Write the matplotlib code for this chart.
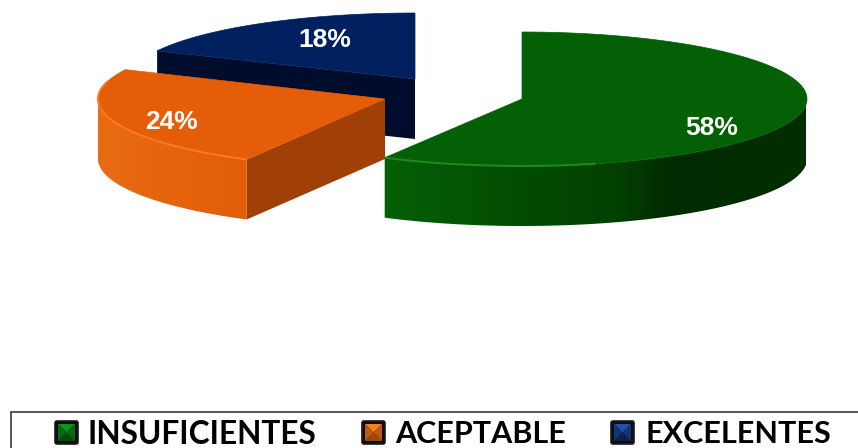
import numpy as np
import matplotlib
matplotlib.use("Agg")
import matplotlib.pyplot as plt
from matplotlib.patches import FancyBboxPatch, Polygon, Rectangle
from matplotlib.colors import to_rgb

categories = ["INSUFICIENTES", "ACEPTABLE", "EXCELENTES"]
values = [58, 24, 18]
labels = ["58%", "24%", "18%"]

# slice look, same order as categories
apex = [(522, 99), (385, 99), (415, 79)]
radii = [(285, 67), (287, 69), (285, 66)]
top_colors = ["#046004", "#e65d09", "#00205f"]
cut_colors = [None, "#a04006", "#000c2c"]
lit_colors = ["#1f8a1f", "#ff7a1c", None]
rim_stops = [
    ([384, 500, 620, 670, 806], ["#056005", "#034f03", "#024000", "#012a00", "#012f00"]),
    ([98, 170, 247], ["#e96c14", "#e5640c", "#e05e08"]),
    None,
]
label_pos = [(712, 128), (171, 122), (325, 40)]
legend_boxes = [54, 361, 610]
legend_text_x = [87, 395, 645]
legend_sizes = [22.8, 22, 22]
legend_colors = [
    ("#12921f", "#0a6a14", "#064a0c"),
    ("#f58020", "#c05a10", "#9a4a10"),
    ("#2450a8", "#143478", "#0c2050"),
]
depth = 60

fig = plt.figure(figsize=(8.58, 4.48), dpi=100)
ax = fig.add_axes([0, 0, 1, 1])
ax.axis("off")


def rim_point(i, deg, drop=0):
    t = np.radians(deg)
    return np.column_stack([
        apex[i][0] + radii[i][0] * np.sin(t),
        apex[i][1] - radii[i][1] * np.cos(t) + drop,
    ])


edges = np.concatenate([[0], np.cumsum(values)]) * 3.6

# back to front: blue, orange, green
for i in [2, 1, 0]:
    start, end = edges[i], edges[i + 1]
    base_z = i * -3 + 10
    arc = np.linspace(start, end, 200)

    if cut_colors[i]:
        # the straight cut face that looks at the viewer
        p = rim_point(i, start)[0]
        cx, cy = apex[i]
        ax.add_patch(Polygon([(cx, cy), p, (p[0], p[1] + depth), (cx, cy + depth)],
                             closed=True, fc=cut_colors[i], ec="none", zorder=base_z))

    if rim_stops[i]:
        # front wall: horizontal gradient clipped to the wall outline
        stops, cols = rim_stops[i]
        rgb = np.array([to_rgb(c) for c in cols])
        xs = np.arange(stops[0], stops[-1] + 1)
        grad = np.stack([np.interp(xs, stops, rgb[:, k]) for k in range(3)], axis=-1)[None, :, :]
        a = arc[(arc >= 90) & (arc <= 270)]
        wall = np.vstack([rim_point(i, a), rim_point(i, a[::-1], depth)])
        clip = Polygon(wall, closed=True, transform=ax.transData, fc="none", ec="none")
        ax.add_patch(clip)
        im = ax.imshow(grad, extent=(stops[0], stops[-1], 448, 0), aspect="auto",
                       interpolation="bilinear", zorder=base_z)
        im.set_clip_path(clip)

    pts = np.vstack([[apex[i]], rim_point(i, arc)])
    ax.add_patch(Polygon(pts, closed=True, fc=top_colors[i], ec=top_colors[i],
                         lw=0.5, zorder=base_z + 1))

    if lit_colors[i]:
        a = np.linspace(max(start, 165 if i == 0 else start), min(end, 285), 120)
        lit = rim_point(i, a)
        ax.plot(lit[:, 0], lit[:, 1], color=lit_colors[i], lw=1.4, zorder=base_z + 2,
                solid_capstyle="butt")

    ax.text(label_pos[i][0], label_pos[i][1], labels[i], color="white", fontsize=19,
            fontweight="bold", family="Liberation Sans", ha="center", va="center", zorder=20)

# legend, the frame runs off the right and bottom of the picture
ax.add_patch(Rectangle((11, 412), 860, 50, fc="white", ec="#4a4a4a", lw=1.3,
                       clip_on=True, zorder=1))

for name, x, tx, size, (light, mid, dark) in zip(categories, legend_boxes, legend_text_x,
                                                 legend_sizes, legend_colors):
    y, s = 420, 25
    mx, my = x + s / 2, y + s / 2
    ax.add_patch(FancyBboxPatch((x + 1, y + 1), s - 2, s - 2, boxstyle="round,pad=0,rounding_size=2",
                                fc="#0c0f0c", ec="#1a1a1a", lw=1.2, zorder=5))
    inner = [(x + 4, y + 4), (x + s - 4, y + 4), (x + s - 4, y + s - 4), (x + 4, y + s - 4)]
    ax.add_patch(Polygon([inner[0], inner[1], (mx, my)], fc=light, ec="none", zorder=6))
    ax.add_patch(Polygon([inner[2], inner[3], (mx, my)], fc=dark, ec="none", zorder=6))
    ax.add_patch(Polygon([inner[1], inner[2], (mx, my)], fc=mid, ec="none", zorder=6))
    ax.add_patch(Polygon([inner[3], inner[0], (mx, my)], fc=mid, ec="none", zorder=6))
    ax.text(tx, 434, name, fontsize=size, fontweight="bold", family="Lato", color="black",
            ha="left", va="center", zorder=6)

ax.set_xlim(0, 858)
ax.set_ylim(448, 0)
fig.savefig("out.png", dpi=100)
